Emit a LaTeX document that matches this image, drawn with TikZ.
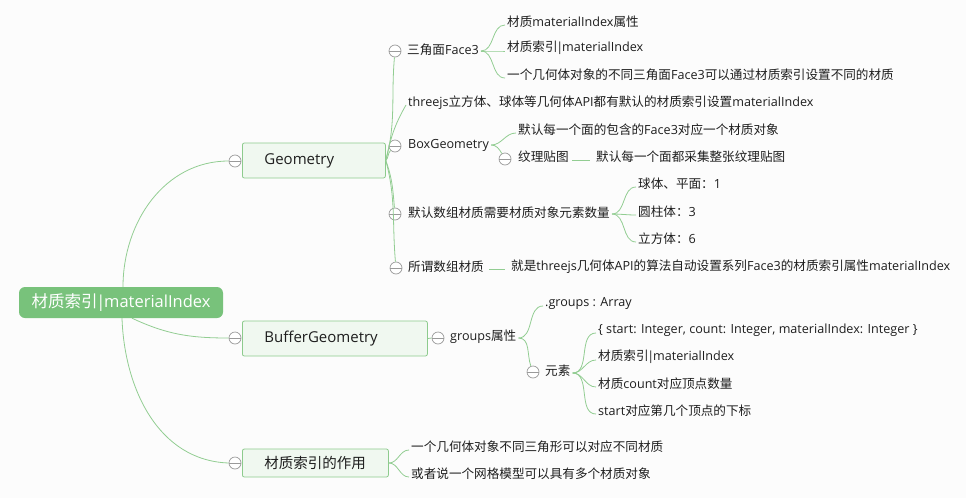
\documentclass[tikz,border=0pt]{standalone}
\usepackage{fontspec}
\setmainfont{Open Sans}
\newfontfamily\cjk{Noto Sans CJK SC}
\newcommand\zh[1]{{\cjk #1}}
\newcommand\vbar{\kern-1.2pt|\kern-1.2pt}
\definecolor{lg}{HTML}{92CD92}
\definecolor{boxline}{HTML}{8DCB8D}
\definecolor{boxfill}{HTML}{F0F8F0}
\definecolor{rootfill}{HTML}{78C27B}
\definecolor{cgray}{HTML}{9A9A9A}
\definecolor{bg}{HTML}{FCFCFC}
\definecolor{txt}{HTML}{1E1E1E}
\begin{document}
\begin{tikzpicture}[x=1pt,y=1pt,
  link/.style={draw=lg, line width=0.8pt},
  col/.style={circle, draw=cgray, fill=white, line width=0.7pt, minimum size=12pt, inner sep=0pt,
    path picture={\draw[cgray, line width=0.7pt] ([xshift=-6pt]path picture bounding box.center) -- ([xshift=6pt]path picture bounding box.center);}},
  leaf/.style={anchor=west, inner xsep=2pt, inner ysep=1pt, text=txt, font=\fontsize{12.6}{15}\selectfont},
  gbox/.style={anchor=west, draw=boxline, fill=boxfill, line width=0.8pt, rounded corners=2pt, inner xsep=22pt, align=left, minimum height=35pt, text=txt, font=\fontsize{15}{18}\selectfont},
  rootbox/.style={fill=rootfill, rounded corners=6pt, minimum width=204pt, minimum height=31pt, text=white, font=\fontsize{16.5}{20}\selectfont}
]
\useasboundingbox[fill=bg] (0,0) rectangle (966,-498);

% root and main branches
\node[rootbox] (root) at (121,-302.5) {\zh{材质索引}\vbar materialIndex};
\node[col] (cGeo) at (235,-161) {};
\node[gbox, text width=99pt] (geo) at (242,-160.5) {Geometry};
\node[col] (cBuf) at (235,-338) {};
\node[gbox, text width=141pt] (buf) at (242,-338.5) {BufferGeometry};
\node[col] (cUse) at (235,-463) {};
\node[gbox, text width=102pt, minimum height=28pt, font=\fontsize{14.5}{17}\selectfont] (use) at (242,-463) {\zh{材质索引的作用}};

% Geometry children
\node[col] (cFace) at (395,-51) {};
\node[leaf] (face) at (405,-50) {\zh{三角面}Face3};
\node[leaf] (three) at (406,-103) {threejs\zh{立方体、球体等几何体}API\zh{都有默认的材质索引设置}materialIndex};
\node[col] (cBox) at (395,-146) {};
\node[leaf] (box) at (406,-145) {BoxGeometry};
\node[col] (cNum) at (395,-214) {};
\node[leaf] (num) at (406,-213) {\zh{默认数组材质需要材质对象元素数量}};
\node[col] (cSo) at (396,-268) {};
\node[leaf] (so) at (406,-267) {\zh{所谓数组材质}};

\node[leaf] (f1) at (505,-22) {\zh{材质}materialIndex\zh{属性}};
\node[leaf] (f2) at (505,-48) {\zh{材质索引}\vbar materialIndex};
\node[leaf] (f3) at (505,-75) {\zh{一个几何体对象的不同三角面}Face3\zh{可以通过材质索引设置不同的材质}};

\node[leaf] (b1) at (516,-130) {\zh{默认每一个面的包含的}Face3\zh{对应一个材质对象}};
\node[col] (cTex) at (505,-159) {};
\node[leaf] (tex) at (516,-157) {\zh{纹理贴图}};
\node[leaf] (tex1) at (594,-157) {\zh{默认每一个面都采集整张纹理贴图}};

\node[leaf] (n1) at (636,-184) {\zh{球体、平面：}1};
\node[leaf] (n2) at (636,-212) {\zh{圆柱体：}3};
\node[leaf] (n3) at (636,-239) {\zh{立方体：}6};

\node[leaf] (so1) at (509,-267) {\zh{就是}threejs\zh{几何体}API\zh{的算法自动设置系列}Face3\zh{的材质索引属性}materialIndex};

% BufferGeometry children
\node[col] (cGrp) at (438,-338) {};
\node[leaf] (grp) at (448,-337) {groups\zh{属性}};
\node[leaf] (g1) at (543,-303) {.groups : Array};
\node[col] (cEl) at (533,-372) {};
\node[leaf] (el) at (543,-371) {\zh{元素}};
\node[leaf] (e1) at (596,-330) {\{ start: Integer, count: Integer, materialIndex: Integer \}};
\node[leaf] (e2) at (596,-357) {\zh{材质索引}\vbar materialIndex};
\node[leaf] (e3) at (596,-384) {\zh{材质}count\zh{对应顶点数量}};
\node[leaf] (e4) at (596,-411) {start\zh{对应第几个顶点的下标}};

% usage children
\node[leaf] (u1) at (409,-447) {\zh{一个几何体对象不同三角形可以对应不同材质}};
\node[leaf] (u2) at (409,-474) {\zh{或者说一个网格模型可以具有多个材质对象}};

% connectors from root
\draw[link] ([xshift=2pt]root.north) to[out=90,in=180] (cGeo.west);
\draw[link] ([xshift=11pt]root.south) to[out=-25,in=180] (cBuf.west);
\draw[link] ([xshift=1pt]root.south) to[out=-88,in=178] (cUse.west);

% Geometry connectors
\draw[link] (geo.east) to[out=75,in=-95] (cFace);
\draw[link] (geo.east) to[out=78,in=-120] ([yshift=-2pt]three.west);
\draw[link] (geo.east) to[out=45,in=-135] (cBox);
\draw[link] (geo.east) to[out=-70,in=95] (cNum);
\draw[link] (geo.east) to[out=-75,in=95] (cSo);

\foreach \c in {f1,f2,f3} \draw[link] ([yshift=-1pt]face.east) to[out=0,in=180] ([yshift=-3pt]\c.west);
\draw[link] (box.east) to[out=0,in=180] ([yshift=-3pt]b1.west);
\draw[link] (box.east) to[out=0,in=120] (cTex);
\draw[link, shorten <=1pt, shorten >=4pt] ([yshift=-3pt]tex.east) -- ([yshift=-3pt]tex1.west);
\foreach \c in {n1,n2,n3} \draw[link] ([yshift=-1pt]num.east) to[out=0,in=180] ([yshift=-3pt]\c.west);
\draw[link, shorten <=3pt, shorten >=4pt] ([yshift=-2pt]so.east) -- ([yshift=-2pt]so1.west);

% BufferGeometry connectors
\draw[link] (buf.east) -- (cGrp.west);
\draw[link] ([yshift=-1pt]grp.east) to[out=0,in=180] ([yshift=-3pt]g1.west);
\draw[link] ([yshift=-1pt]grp.east) to[out=0,in=110] (cEl);
\foreach \c in {e1,e2,e3,e4} \draw[link] ([yshift=-2pt]el.east) to[out=0,in=180] ([yshift=-3pt]\c.west);

% usage connectors
\foreach \c in {u1,u2} \draw[link] (use.east) to[out=0,in=180] ([yshift=-3pt]\c.west);
\end{tikzpicture}
\end{document}
